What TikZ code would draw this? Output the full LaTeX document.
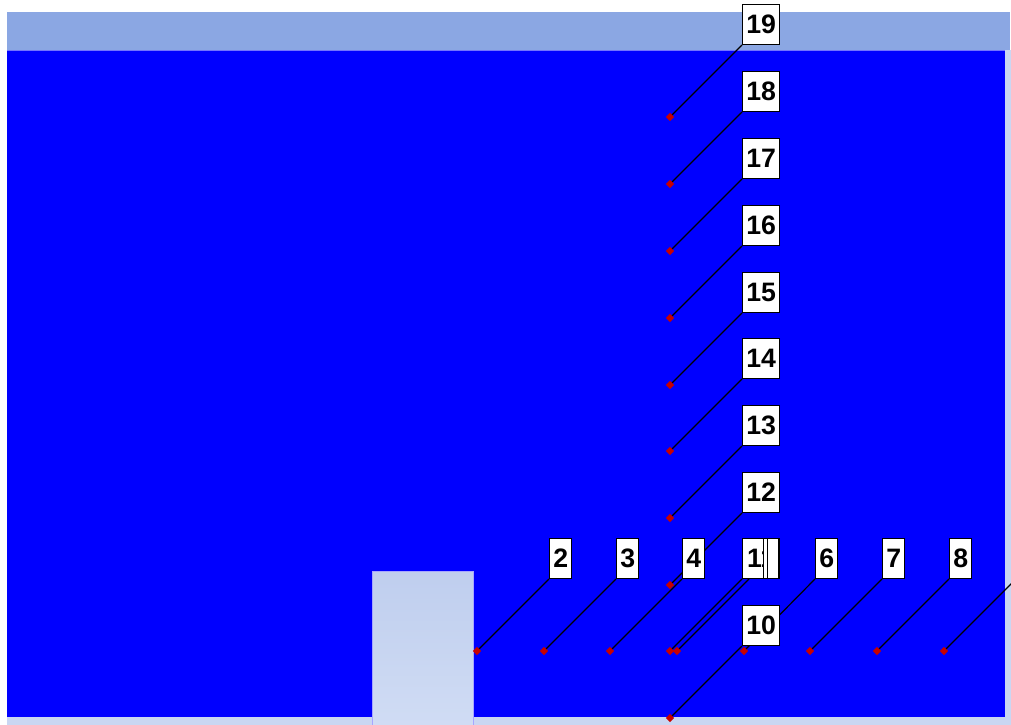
\documentclass[tikz,border=0pt]{standalone}
\usepackage{fontspec}
\setmainfont{Liberation Sans}
\usetikzlibrary{shapes.geometric}
\pgfdeclarelayer{bg}
\pgfdeclarelayer{wires}
\pgfsetlayers{bg,wires,main}
\definecolor{band}{RGB}{139,167,227}
\definecolor{water}{RGB}{0,0,255}
\definecolor{pale}{RGB}{202,214,242}
\definecolor{blocktop}{RGB}{191,206,238}
\definecolor{blockbot}{RGB}{208,220,244}
\definecolor{ptred}{RGB}{200,0,0}

\begin{document}
\begin{tikzpicture}[x=0.75pt,y=-0.75pt,
  lbl/.style={draw=black,fill=white,line width=1pt,inner sep=0pt,anchor=south west,
    minimum width=16.5pt,minimum height=30pt,font=\fontsize{20}{20}\selectfont\bfseries},
  lblw/.style={lbl,minimum width=27.75pt},
  pt/.style={diamond,fill=ptred,inner sep=0pt,minimum size=6.5pt},
  lead/.style={line width=0.9pt,black}]
  \useasboundingbox (0,0) rectangle (1011,725);
  \clip (0,0) rectangle (1011,725);
  % tank and block
  \begin{pgfonlayer}{bg}
    \fill[white] (0,0) rectangle (1011,725);
    \fill[band] (7,12) rectangle (1010,50);
    \fill[pale] (1005,50) rectangle (1011,725);
    \fill[pale] (7,717) rectangle (1011,725);
    \fill[water] (7,50) rectangle (1005,717);
    \draw[blue!55!white,line width=0.75pt] (7,50) -- (1005,50);
    \shade[top color=blocktop,bottom color=blockbot] (372,571) rectangle (473,725);
    \draw[blue!35!white,line width=0.6pt] (372,725) -- (372,571) -- (473,571) -- (473,725);
  \end{pgfonlayer}

  % probe points, vertical column
  \node[pt] (p19) at (670,117) {};
  \node[pt] (p18) at (670,184) {};
  \node[pt] (p17) at (670,251) {};
  \node[pt] (p16) at (670,318) {};
  \node[pt] (p15) at (670,385) {};
  \node[pt] (p14) at (670,451) {};
  \node[pt] (p13) at (670,518) {};
  \node[pt] (p12) at (670,585) {};
  \node[pt] (p11) at (670,651) {};
  \node[pt] (p10) at (670,718) {};
  % probe points, horizontal row
  \node[pt] (p2) at (477,651) {};
  \node[pt] (p3) at (544,651) {};
  \node[pt] (p4) at (610,651) {};
  \node[pt] (p5) at (677,651) {};
  \node[pt] (p6) at (744,651) {};
  \node[pt] (p7) at (810,651) {};
  \node[pt] (p8) at (877,651) {};
  \node[pt] (p9) at (944,651) {};

  % labels
  \node[lblw] (l19) at (742,45) {19};
  \node[lblw] (l18) at (742,112) {18};
  \node[lblw] (l17) at (742,179) {17};
  \node[lblw] (l16) at (742,246) {16};
  \node[lblw] (l15) at (742,313) {15};
  \node[lblw] (l14) at (742,379) {14};
  \node[lblw] (l13) at (742,446) {13};
  \node[lblw] (l12) at (742,513) {12};
  \node[lblw] (l10) at (742,646) {10};
  \node[lbl] (l2) at (549,579) {2};
  \node[lbl] (l3) at (616,579) {3};
  \node[lbl] (l4) at (682,579) {4};
  \node[lblw] (l11) at (742,579) {11};
  \node[lbl,minimum width=12pt] (lx) at (763,579) {};
  \node[lbl,minimum width=8.25pt] (ly) at (767,579) {};
  \node[lbl] (l6) at (815,579) {6};
  \node[lbl] (l7) at (882,579) {7};
  \node[lbl] (l8) at (949,579) {8};
  \coordinate (c5) at (749,579);
  \coordinate (c9) at (1016,579);

  % leader lines
  \begin{pgfonlayer}{wires}
    \draw[lead] (p19.center) -- (l19.south west);
    \draw[lead] (p18.center) -- (l18.south west);
    \draw[lead] (p17.center) -- (l17.south west);
    \draw[lead] (p16.center) -- (l16.south west);
    \draw[lead] (p15.center) -- (l15.south west);
    \draw[lead] (p14.center) -- (l14.south west);
    \draw[lead] (p13.center) -- (l13.south west);
    \draw[lead] (p12.center) -- (l12.south west);
    \draw[lead] (p11.center) -- (l11.south west);
    \draw[lead] (p10.center) -- (l10.south west);
    \draw[lead] (p2.center) -- (l2.south west);
    \draw[lead] (p3.center) -- (l3.south west);
    \draw[lead] (p4.center) -- (l4.south west);
    \draw[lead] (p5.center) -- (c5);
    \draw[lead] (p6.center) -- (l6.south west);
    \draw[lead] (p7.center) -- (l7.south west);
    \draw[lead] (p8.center) -- (l8.south west);
    \draw[lead] (p9.center) -- (c9);
  \end{pgfonlayer}
\end{tikzpicture}
\end{document}
